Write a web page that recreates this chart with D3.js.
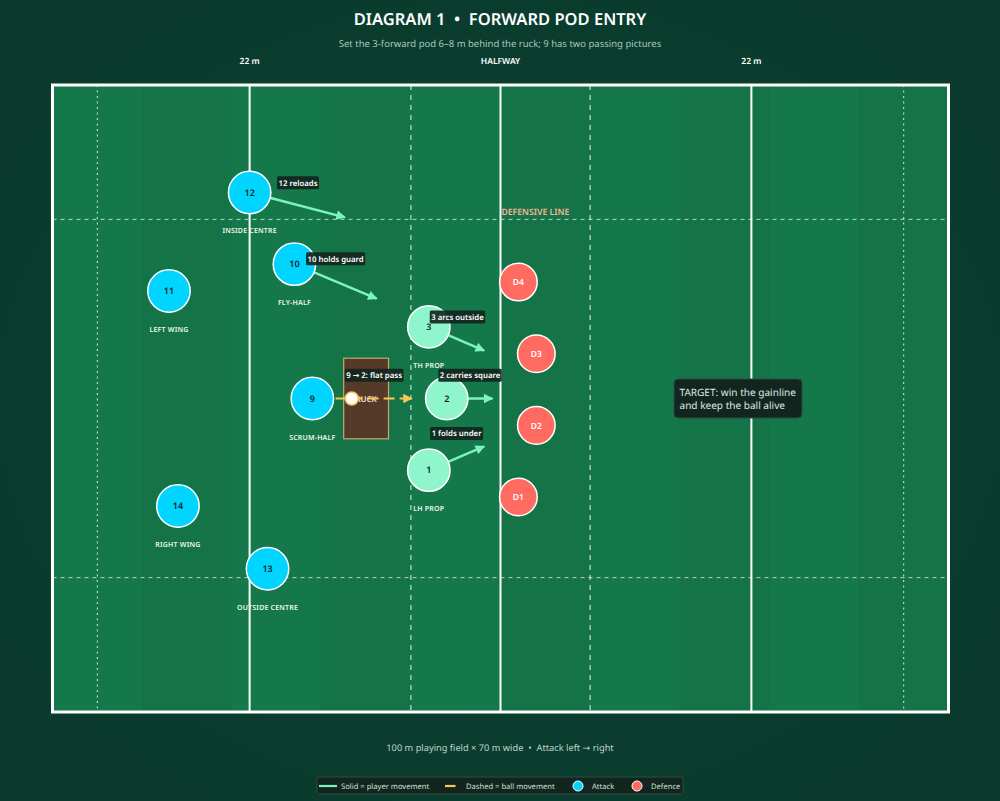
<!DOCTYPE html>
<html>
<head>
<meta charset="utf-8">
<script src="https://cdn.jsdelivr.net/npm/d3@7"></script>
<style>
html, body { margin: 0; padding: 0; background: #0a3d2e; }
svg { display: block; }
text { font-family: "Noto Sans", "DejaVu Sans", sans-serif; text-rendering: geometricPrecision; }
</style>
</head>
<body>
<div id="chart"></div>
<script>
// everything below is in metres on the field
var stripeStarts = [0, 10, 20, 30, 40, 50, 60, 70, 80, 90];

var solidLines = [22, 50, 78];
var dashedLines = [40, 60];
var dottedLines = [5, 95];
var wideLines = [15, 55];
var topLabels = ["22 m", "HALFWAY", "22 m"];

var attackNames = ["12", "10", "11", "9", "14", "13"];
var attackX = [22, 27, 13, 29, 14, 24];
var attackY = [12, 20, 23, 35, 47, 54];
var attackRoles = ["INSIDE CENTRE", "FLY-HALF", "LEFT WING", "SCRUM-HALF", "RIGHT WING", "OUTSIDE CENTRE"];

var podNames = ["3", "2", "1"];
var podX = [42, 44, 42];
var podY = [27, 35, 43];
var podRoles = ["TH PROP", "", "LH PROP"];

var defenceNames = ["D4", "D3", "D2", "D1"];
var defenceX = [52, 54, 54, 52];
var defenceY = [22, 30, 38, 46];

var moveFromX = [22, 27, 42, 44, 42];
var moveFromY = [12, 20, 27, 35, 43];
var moveToX = [33.5, 37, 49, 50, 49];
var moveToY = [15, 24.2, 30, 35, 40];

var passFrom = [31.6, 35];
var passTo = [40.1, 35];
var ballAt = [33.4, 35];

var noteTexts = ["12 reloads", "10 holds guard", "3 arcs outside", "9 \u2192 2: flat pass", "2 carries square", "1 folds under"];
var noteX = [27.4, 31.6, 45.2, 35.9, 46.6, 45.1];
var noteY = [10.9, 19.4, 25.9, 32.4, 32.4, 38.9];

var ruckX = [32.5, 37.5];
var ruckY = [30.5, 39.5];

var W = 1000, H = 801;
var x = d3.scaleLinear().domain([0, 100]).range([52.5, 948.5]);
var y = d3.scaleLinear().domain([0, 70]).range([85, 712]);

var svg = d3.select("#chart").append("svg").attr("width", W).attr("height", H);
var defs = svg.append("defs");

var bg = defs.append("radialGradient").attr("id", "bg").attr("cx", "50%").attr("cy", "50%").attr("r", "70%");
bg.append("stop").attr("offset", "0%").attr("stop-color", "#0a4231");
bg.append("stop").attr("offset", "100%").attr("stop-color", "#0a3a2d");
svg.append("rect").attr("width", W).attr("height", H).attr("fill", "url(#bg)");

function arrowHead(id, colour) {
    defs.append("marker").attr("id", id)
        .attr("viewBox", "0 0 10 10").attr("refX", 9).attr("refY", 5)
        .attr("markerWidth", 12).attr("markerHeight", 9.5)
        .attr("markerUnits", "userSpaceOnUse").attr("orient", "auto")
        .append("path").attr("d", "M0,0L10,5L0,10Z").attr("fill", colour);
}
arrowHead("mint", "#7df2c4");
arrowHead("gold", "#f7c65a");

// field
svg.append("rect").attr("x", x(0)).attr("y", y(0)).attr("width", x(100) - x(0)).attr("height", y(70) - y(0)).attr("fill", "#15774a");
svg.selectAll(".stripe").data(stripeStarts).join("rect").attr("class", "stripe")
    .attr("x", function(d) { return x(d); })
    .attr("y", y(0))
    .attr("width", x(10) - x(0))
    .attr("height", y(70) - y(0))
    .attr("fill", function(d, i) { return i % 2 ? "#157348" : "#15784b"; });

function vLines(vals, width, dash, opacity) {
    svg.append("g").selectAll("line").data(vals).join("line")
        .attr("x1", function(d) { return x(d); }).attr("x2", function(d) { return x(d); })
        .attr("y1", y(0)).attr("y2", y(70))
        .attr("stroke", "#fff").attr("stroke-width", width)
        .attr("stroke-dasharray", dash).attr("opacity", opacity);
}
vLines(dottedLines, 1, "2,3.5", 0.85);
vLines(dashedLines, 1, "5,5", 0.9);
svg.append("g").selectAll("line").data(wideLines).join("line")
    .attr("x1", x(0)).attr("x2", x(100))
    .attr("y1", function(d) { return y(d); }).attr("y2", function(d) { return y(d); })
    .attr("stroke", "#fff").attr("stroke-width", 1)
    .attr("stroke-dasharray", "4,4").attr("opacity", 0.7);
vLines(solidLines, 2, null, 1);

svg.append("rect").attr("x", x(0)).attr("y", y(0)).attr("width", x(100) - x(0)).attr("height", y(70) - y(0))
    .attr("fill", "none").attr("stroke", "#fff").attr("stroke-width", 3);

svg.selectAll(".top").data(topLabels).join("text").attr("class", "top")
    .attr("x", function(d, i) { return x(solidLines[i]); })
    .attr("y", 63.5).attr("text-anchor", "middle")
    .attr("font-size", 8.5).attr("font-weight", 600).attr("fill", "#fff")
    .text(function(d) { return d; });

// titles
svg.append("text").attr("x", 500).attr("y", 24.5).attr("text-anchor", "middle")
    .attr("font-size", 16.5).attr("font-weight", 600).attr("fill", "#fff")
    .style("white-space", "pre")
    .text("DIAGRAM 1  \u2022  FORWARD POD ENTRY");
svg.append("text").attr("x", 500).attr("y", 46.5).attr("text-anchor", "middle")
    .attr("font-size", 9.5).attr("fill", "#a9c9ba")
    .text("Set the 3-forward pod 6\u20138 m behind the ruck; 9 has two passing pictures");
svg.append("text").attr("x", 500).attr("y", 751).attr("text-anchor", "middle")
    .attr("font-size", 9.25).attr("fill", "#bcd6ca")
    .style("white-space", "pre")
    .text("100 m playing field \u00d7 70 m wide  \u2022  Attack left \u2192 right");

svg.append("text").attr("x", x(54) - 1).attr("y", y(15) - 4.5).attr("text-anchor", "middle")
    .attr("font-size", 8.7).attr("font-weight", 600).attr("fill", "#f5b49c")
    .text("DEFENSIVE LINE");

// ruck
svg.append("rect").attr("x", x(ruckX[0])).attr("y", y(ruckY[0]))
    .attr("width", x(ruckX[1]) - x(ruckX[0])).attr("height", y(ruckY[1]) - y(ruckY[0]))
    .attr("fill", "#553a2a").attr("stroke", "#c9a96e").attr("stroke-width", 1.2);
svg.append("text").attr("x", x(35)).attr("y", y(35) + 3).attr("text-anchor", "middle")
    .attr("font-size", 8).attr("font-weight", 600).attr("fill", "#f0e6d8").text("RUCK");

// movement lines go under the players
moveFromX.forEach(function(d, i) {
    var x1 = x(d), y1 = y(moveFromY[i]), x2 = x(moveToX[i]), y2 = y(moveToY[i]);
    var len = Math.hypot(x2 - x1, y2 - y1);
    svg.append("line")
        .attr("x1", x1).attr("y1", y1)
        .attr("x2", x2 - (x2 - x1) / len * 8).attr("y2", y2 - (y2 - y1) / len * 8)
        .attr("stroke", "#7df2c4").attr("stroke-width", 2.5)
        .attr("marker-end", "url(#mint)");
});
svg.append("line")
    .attr("x1", x(passFrom[0])).attr("y1", y(passFrom[1]))
    .attr("x2", x(passTo[0])).attr("y2", y(passTo[1]))
    .attr("stroke", "#f7c65a").attr("stroke-width", 2.2)
    .attr("stroke-dasharray", "11,5")
    .attr("marker-end", "url(#gold)");

// players
function players(names, xs, ys, r, fill, textFill, fontSize) {
    var g = svg.append("g").selectAll("g").data(names).join("g")
        .attr("transform", function(d, i) { return "translate(" + x(xs[i]) + "," + y(ys[i]) + ")"; });
    g.append("circle").attr("r", r).attr("fill", fill).attr("stroke", "#fff").attr("stroke-width", 1.5);
    g.append("text").attr("y", 3.2).attr("text-anchor", "middle")
        .attr("font-size", fontSize).attr("font-weight", 600).attr("fill", textFill)
        .text(function(d) { return d; });
}
players(attackNames, attackX, attackY, 21.2, "#00d4ff", "#0b2a22", 9);
players(podNames, podX, podY, 21.2, "#8ef5cd", "#0b2a22", 9);
players(defenceNames, defenceX, defenceY, 18.8, "#ff6b61", "#fff", 8.5);

function roleLabels(roles, xs, ys) {
    svg.append("g").selectAll("text").data(roles).join("text")
        .attr("x", function(d, i) { return x(xs[i]); })
        .attr("y", function(d, i) { return y(ys[i]) + 41; })
        .attr("text-anchor", "middle").attr("font-size", 7).attr("font-weight", 600)
        .attr("letter-spacing", 0.2).attr("fill", "#eef6f1")
        .text(function(d) { return d; });
}
roleLabels(attackRoles, attackX, attackY);
roleLabels(podRoles, podX, podY);

// ball
svg.append("circle").attr("cx", x(ballAt[0])).attr("cy", y(ballAt[1])).attr("r", 6.5)
    .attr("fill", "#fff").attr("stroke", "#f7c65a").attr("stroke-width", 1.5);

// notes
noteTexts.forEach(function(d, i) {
    var g = svg.append("g");
    var t = g.append("text").attr("x", x(noteX[i])).attr("y", y(noteY[i]) + 3)
        .attr("text-anchor", "middle").attr("font-size", 7.8).attr("font-weight", 600)
        .attr("fill", "#fff").text(d);
    var w = t.node().getComputedTextLength();
    g.insert("rect", "text").attr("x", x(noteX[i]) - w / 2 - 1.5).attr("y", y(noteY[i]) - 6.5)
        .attr("width", w + 3).attr("height", 13).attr("rx", 1.5)
        .attr("fill", "#12261f").attr("opacity", 0.92);
});

// target box
svg.append("rect").attr("x", 674).attr("y", 379).attr("width", 128).attr("height", 39).attr("rx", 4)
    .attr("fill", "#12261f").attr("stroke", "#2f4a3f").attr("stroke-width", 1);
var targetLines = ["TARGET: win the gainline", "and keep the ball alive"];
svg.selectAll(".tgt").data(targetLines).join("text").attr("class", "tgt")
    .attr("x", 679.5).attr("y", function(d, i) { return 395.5 + i * 13.7; })
    .attr("font-size", 10.05).attr("fill", "#dfe9e4")
    .text(function(d) { return d; });

// legend
var legendTexts = ["Solid = player movement", "Dashed = ball movement", "Attack", "Defence"];
var legendTextX = [341, 466, 592, 651];
svg.append("rect").attr("x", 317).attr("y", 777).attr("width", 366).attr("height", 17).attr("rx", 2)
    .attr("fill", "#12261f").attr("stroke", "#2f4a3f").attr("stroke-width", 1);
svg.append("line").attr("x1", 319).attr("x2", 337).attr("y1", 786).attr("y2", 786)
    .attr("stroke", "#7df2c4").attr("stroke-width", 2.2);
svg.append("line").attr("x1", 445).attr("x2", 455.5).attr("y1", 786).attr("y2", 786)
    .attr("stroke", "#f7c65a").attr("stroke-width", 2.2);
svg.append("circle").attr("cx", 578).attr("cy", 786).attr("r", 5).attr("fill", "#00d4ff").attr("stroke", "#fff");
svg.append("circle").attr("cx", 637).attr("cy", 786).attr("r", 5).attr("fill", "#ff6b61").attr("stroke", "#fff");
svg.selectAll(".leg").data(legendTexts).join("text").attr("class", "leg")
    .attr("x", function(d, i) { return legendTextX[i]; }).attr("y", 788.8)
    .attr("font-size", 7.6).attr("fill", "#cfe0d8")
    .text(function(d) { return d; });
</script>
</body>
</html>
